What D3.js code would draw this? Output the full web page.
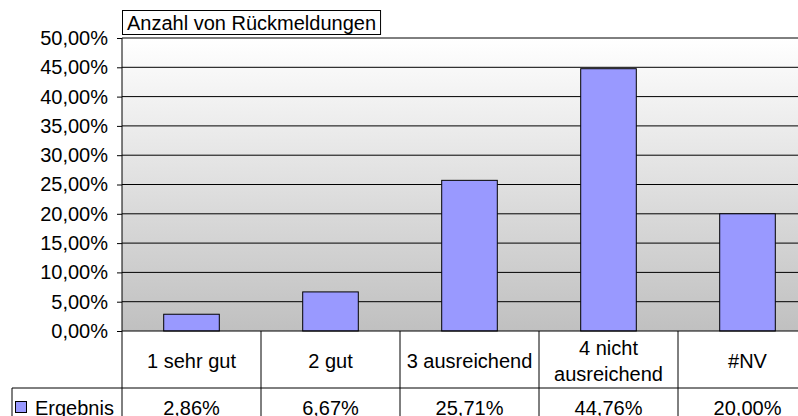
<!DOCTYPE html>
<html>
<head>
<meta charset="utf-8">
<script src="https://cdn.jsdelivr.net/npm/d3@7"></script>
<style>
  body { margin: 0; background: #fff; overflow: hidden; }
  svg { display: block; font-family: "Liberation Sans", Arial, sans-serif; }
</style>
</head>
<body>
<svg id="chart" width="798" height="416"></svg>
<script>
// data
var categories = ['1 sehr gut', '2 gut', '3 ausreichend', '4 nicht\nausreichend', '#NV'];
var values = [2.86, 6.67, 25.71, 44.76, 20.00];
var valueLabels = ['2,86%', '6,67%', '25,71%', '44,76%', '20,00%'];
var yTicks = [0, 5, 10, 15, 20, 25, 30, 35, 40, 45, 50];
var seriesName = 'Ergebnis';
var chartTitle = 'Anzahl von Rückmeldungen';

var svg = d3.select('#chart');
var fs = '20px';

var plotLeft = 122, plotRight = 817;   // plot runs past the window edge, like the screenshot
var plotTop = 38, plotBottom = 331;
var rowH = 57;                         // category row height

var x = d3.scaleBand().domain(d3.range(categories.length)).range([plotLeft, plotRight]);
var y = d3.scaleLinear().domain([0, 50]).range([plotBottom, plotTop]);

// gradient background
var defs = svg.append('defs');
var grad = defs.append('linearGradient').attr('id', 'bg').attr('x1', 0).attr('y1', 0).attr('x2', 0).attr('y2', 1);
grad.append('stop').attr('offset', '0%').attr('stop-color', '#ffffff');
grad.append('stop').attr('offset', '100%').attr('stop-color', '#c0c0c0');

svg.append('rect')
  .attr('x', plotLeft).attr('y', plotTop)
  .attr('width', plotRight - plotLeft).attr('height', plotBottom - plotTop)
  .style('fill', 'url(#bg)');

// grid lines
svg.append('g').selectAll('line')
  .data(yTicks.filter(d => d > 0))
  .join('line')
  .attr('x1', plotLeft).attr('x2', plotRight)
  .attr('y1', d => y(d)).attr('y2', d => y(d))
  .style('stroke', '#000').style('stroke-width', 1);

// y axis
var yAxis = d3.axisLeft(y)
  .tickValues(yTicks)
  .tickSize(5)
  .tickPadding(9)
  .tickFormat(d => d3.format('.2f')(d).replace('.', ',') + '%');

var yg = svg.append('g')
  .attr('transform', `translate(${plotLeft},0)`)
  .call(yAxis);
yg.select('.domain').remove();
yg.selectAll('.tick line').style('stroke', '#000');
yg.selectAll('.tick text')
  .style('font-size', fs)
  .style('fill', '#000')
  .style('font-family', '"Liberation Sans", Arial, sans-serif');

// bars
var barW = x.bandwidth() / 2.5;
svg.append('g').selectAll('rect')
  .data(values)
  .join('rect')
  .attr('x', (d, i) => x(i) + (x.bandwidth() - barW) / 2)
  .attr('y', d => y(d))
  .attr('width', barW)
  .attr('height', d => y(0) - y(d))
  .style('fill', '#9999ff')
  .style('stroke', '#000')
  .style('stroke-width', 1);

// axis lines
svg.append('line')
  .attr('x1', plotLeft).attr('x2', plotRight)
  .attr('y1', plotBottom).attr('y2', plotBottom)
  .style('stroke', '#000');
svg.append('line')
  .attr('x1', plotLeft).attr('x2', plotLeft)
  .attr('y1', plotTop).attr('y2', 420)
  .style('stroke', '#000');

// data table
var rowTop = plotBottom + rowH;
svg.append('g').selectAll('line')
  .data(d3.range(1, categories.length))
  .join('line')
  .attr('x1', i => x(i)).attr('x2', i => x(i))
  .attr('y1', plotBottom).attr('y2', 420)
  .style('stroke', '#000');

svg.append('line')
  .attr('x1', 12).attr('x2', plotRight)
  .attr('y1', rowTop).attr('y2', rowTop)
  .style('stroke', '#000');
svg.append('line')
  .attr('x1', 12).attr('x2', 12)
  .attr('y1', rowTop).attr('y2', 420)
  .style('stroke', '#000');

// category labels
svg.append('g').selectAll('text')
  .data(categories)
  .join('text')
  .attr('text-anchor', 'middle')
  .style('font-size', fs)
  .style('fill', '#000')
  .each(function (d, i) {
    var lines = d.split('\n');
    var cx = x(i) + x.bandwidth() / 2;
    var cy = plotBottom + rowH / 2 + 1;
    var lh = 26;
    d3.select(this).selectAll('tspan')
      .data(lines)
      .join('tspan')
      .attr('x', cx)
      .attr('y', (l, j) => cy + (j - (lines.length - 1) / 2) * lh)
      .attr('dy', '0.35em')
      .text(l => l);
  });

// value labels
svg.append('g').selectAll('text')
  .data(valueLabels)
  .join('text')
  .attr('x', (d, i) => x(i) + x.bandwidth() / 2)
  .attr('y', 408)
  .attr('dy', '0.35em')
  .attr('text-anchor', 'middle')
  .style('font-size', fs)
  .style('fill', '#000')
  .text(d => d);

// legend key in the table
svg.append('rect')
  .attr('x', 15.5).attr('y', 401.5)
  .attr('width', 11).attr('height', 11)
  .style('fill', '#9999ff')
  .style('stroke', '#000');
svg.append('text')
  .attr('x', 35).attr('y', 408)
  .attr('dy', '0.35em')
  .style('font-size', fs)
  .text(seriesName);

// title box
var titleBox = svg.append('rect');
var title = svg.append('text')
  .attr('x', 127).attr('y', 22.5)
  .attr('dy', '0.35em')
  .style('font-size', fs)
  .text(chartTitle);
var tw = title.node().getComputedTextLength();
titleBox
  .attr('x', 122.5).attr('y', 10.5)
  .attr('width', tw + 9).attr('height', 24)
  .style('fill', '#fff')
  .style('stroke', '#000');
</script>
</body>
</html>
